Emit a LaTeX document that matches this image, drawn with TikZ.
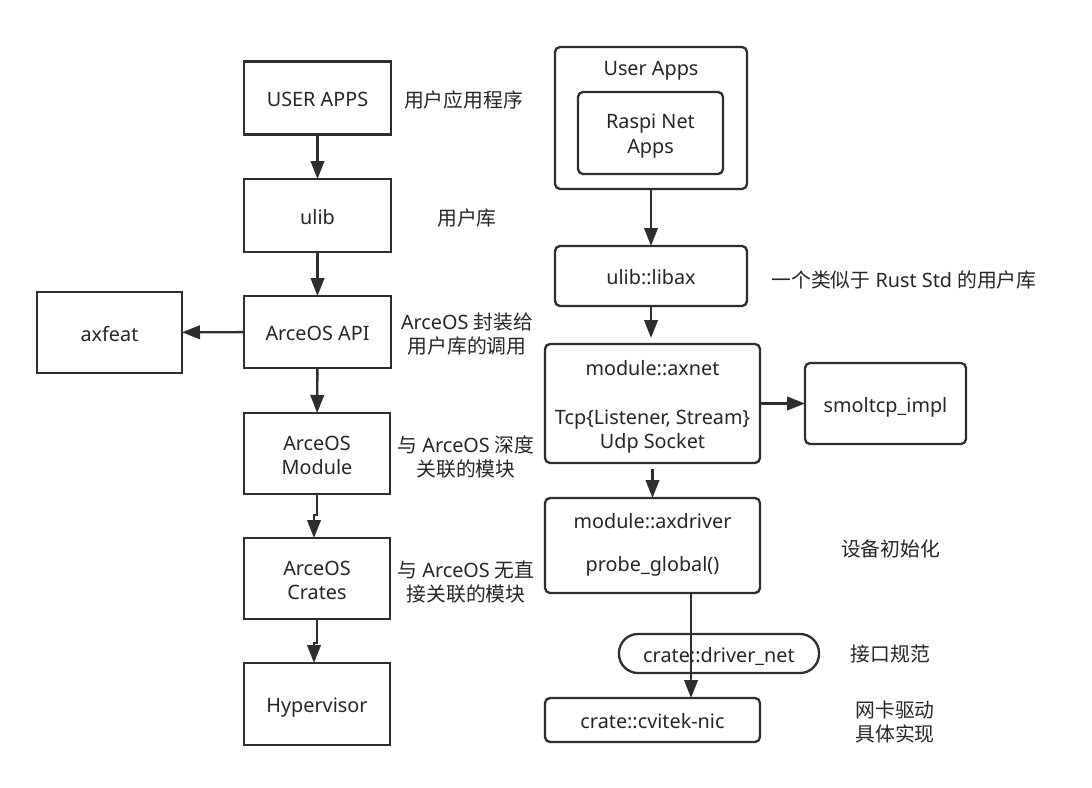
\documentclass[tikz,border=0pt]{standalone}
\usepackage{fontspec}
\setmainfont{Noto Sans}
\newfontfamily\cjkfont{Noto Sans CJK SC}
\newcommand{\zhtxt}[1]{{\cjkfont #1}}
\usetikzlibrary{arrows.meta}
\definecolor{ink}{HTML}{2E2E2E}
\definecolor{txt}{HTML}{262626}
\begin{document}
\begin{tikzpicture}[x=1pt,y=-1pt,
  every node/.style={font=\fontsize{19.8}{24}\selectfont, text=txt, inner sep=0pt, outer sep=0pt},
  box/.style={draw=ink, line width=2.3pt, align=center},
  rbox/.style={box, rounded corners=5pt},
  one/.style={text height=17.8pt, text depth=0pt},
  two/.style={text height=42.8pt, text depth=0pt},
  lbl/.style={align=center},
  arr/.style={draw=ink, line width=2.4pt, -{Triangle[length=18pt,width=13.5pt]}},
]
\fill[white] (0,0) rectangle (1092,787);
\useasboundingbox (0,0) rectangle (1092,787);

% left column
\node[box, one, minimum width=147pt, minimum height=73pt] (uapps) at (317.5,98) {USER APPS};
\node[box, one, minimum width=147pt, minimum height=73pt] (ulib) at (317.5,215.5) {ulib};
\node[box, one, minimum width=147pt, minimum height=72pt] (api) at (317.5,332) {ArceOS API};
\node[box, one, minimum width=145pt, minimum height=81pt] (axfeat) at (109.5,332.5) {axfeat};
\node[box, two, minimum width=146pt, minimum height=81pt] (mod) at (317,453.5) {ArceOS\\Module};
\node[box, two, minimum width=146pt, minimum height=81pt] (crates) at (317,578.5) {ArceOS\\Crates};
\node[box, one, minimum width=146pt, minimum height=82pt] (hyper) at (317,704) {Hypervisor};

% left labels
\node[lbl] (t1) at (463.5,100) {\zhtxt{用户应用程序}};
\node[lbl] (t2) at (467,218) {\zhtxt{用户库}};
\node[lbl] (t3) at (467,334) {ArceOS \zhtxt{封装给}\\\zhtxt{用户库的调用}};
\node[lbl] (t4) at (466,457) {\zhtxt{与} ArceOS \zhtxt{深度}\\\zhtxt{关联的模块}};
\node[lbl] (t5) at (466,582) {\zhtxt{与} ArceOS \zhtxt{无直}\\\zhtxt{接关联的模块}};

% right column
\node[rbox, minimum width=192pt, minimum height=142pt] (outer) at (651,118) {};
\node (uatitle) at (651,70.5) {User Apps};
\node[rbox, text height=41.8pt, text depth=0pt, minimum width=145pt, minimum height=82pt] (raspi) at (650.5,133) {Raspi Net\\[1pt]Apps};
\node[rbox, one, minimum width=192pt, minimum height=60pt] (libax) at (651,276) {ulib::libax};
\node[rbox, text height=90.8pt, text depth=0pt, minimum width=215pt, minimum height=119pt] (axnet) at (652.5,403.5) {module::axnet\\[25pt]Tcp\{Listener, Stream\}\\Udp Socket};
\node[rbox, one, minimum width=161pt, minimum height=81pt] (smol) at (885.5,403.5) {smoltcp\_impl};
\node[rbox, text height=52.8pt, text depth=0pt, minimum width=215pt, minimum height=95pt] (axdrv) at (652.5,545.5) {module::axdriver\\[19pt]probe\_global()};
\node[box, one, rounded corners=19pt, minimum width=200pt, minimum height=39pt] (dnet) at (719,653.5) {crate::driver\_net};
\node[rbox, one, minimum width=215pt, minimum height=44pt] (cvitek) at (652.5,720) {crate::cvitek-nic};

% right labels
\node[lbl] (t6) at (904,279.5) {\zhtxt{一个类似于} Rust Std \zhtxt{的用户库}};
\node[lbl] (t7) at (890.5,549) {\zhtxt{设备初始化}};
\node[lbl] (t8) at (890.5,654) {\zhtxt{接口规范}};
\node[lbl] (t9) at (895,722) {\zhtxt{网卡驱动}\\\zhtxt{具体实现}};

% connectors
\draw[arr] (uapps) -- (ulib);
\draw[arr] (ulib) -- (api);
\draw[arr] (api) -- (axfeat);
\draw[arr] (api) -- (mod);
\draw[arr] (mod.south) -- ++(0,21) -| ([xshift=-3pt]crates.north);
\draw[arr] (crates.south) -- ++(0,24) -| ([xshift=-3pt]hyper.north);
\draw[arr] (outer) -- (libax);
\draw[arr, shorten >=6pt] (libax.south) -- (libax.south |- axnet.north);
\draw[arr, shorten <=6pt] (axnet.south) -- (axnet.south |- axdrv.north);
\draw[arr] (axnet) -- (smol);
\draw[arr] ([xshift=38.5pt]axdrv.south) -- ([xshift=38.5pt]cvitek.north);
\end{tikzpicture}
\end{document}
